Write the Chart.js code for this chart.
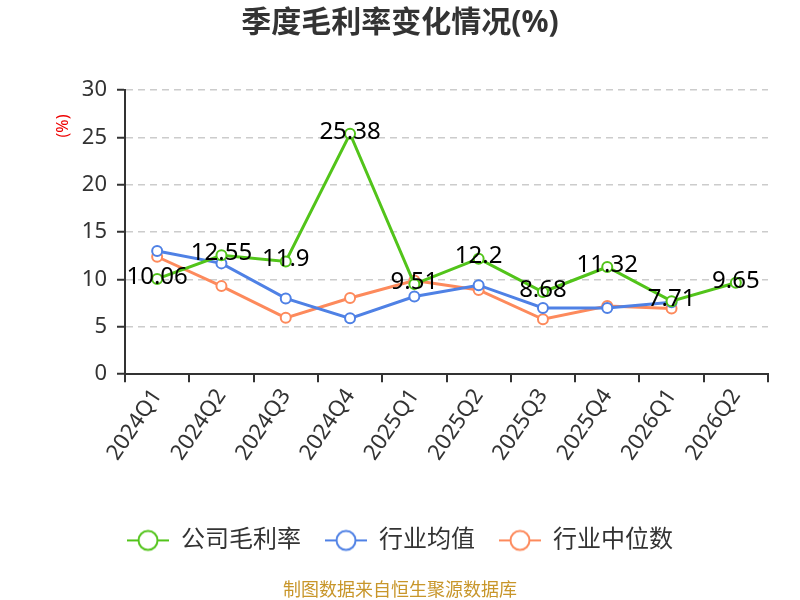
<!DOCTYPE html>
<html>
<head>
<meta charset="utf-8">
<script src="https://cdn.jsdelivr.net/npm/chart.js@4.4.0/dist/chart.umd.min.js"></script>
<style>
  html, body { margin: 0; padding: 0; background: #fff; }
  #wrap { width: 800px; height: 600px; }
</style>
</head>
<body>
<div id="wrap"><canvas id="c" width="800" height="600"></canvas></div>
<script>
// 분기 라벨
const quarters = ['2024Q1', '2024Q2', '2024Q3', '2024Q4', '2025Q1', '2025Q2', '2025Q3', '2025Q4', '2026Q1', '2026Q2'];
// 데이터
const companyMargin = [10.06, 12.55, 11.9, 25.38, 9.51, 12.2, 8.68, 11.32, 7.71, 9.65];
const industryAvg = [13.0, 11.7, 8.0, 5.9, 8.2, 9.4, 7.0, 7.0, 7.6, null];
const industryMedian = [12.4, 9.3, 5.95, 8.05, 9.9, 8.9, 5.8, 7.2, 6.95, null];
const seriesNames = ['公司毛利率', '行业均值', '行业中位数'];
const yTicks = [0, 5, 10, 15, 20, 25, 30];

const FONT = "'Noto Sans', 'Noto Sans CJK SC', sans-serif";
const colors = ['#52c41a', '#4f81e5', '#fd8a5c'];

// 범례 아이콘 (선 + 원)
function legendIcon(color) {
    const cv = document.createElement('canvas');
    cv.width = 42; cv.height = 24;
    const g = cv.getContext('2d');
    g.strokeStyle = color;
    g.lineWidth = 2;
    g.beginPath(); g.moveTo(0, 12); g.lineTo(42, 12); g.stroke();
    g.beginPath(); g.arc(21, 12, 9.5, 0, Math.PI * 2);
    g.fillStyle = '#fff'; g.fill(); g.stroke();
    return cv;
}

// 데이터 라벨 + y축 단위
const valueLabels = {
    id: 'valueLabels',
    afterDatasetsDraw(chart) {
        const ctx = chart.ctx;
        const meta = chart.getDatasetMeta(0);
        ctx.save();
        ctx.font = '24px ' + FONT;
        ctx.fillStyle = '#000';
        ctx.textAlign = 'center';
        ctx.textBaseline = 'middle';
        meta.data.forEach((pt, i) => {
            ctx.fillText(String(companyMargin[i]), pt.x, pt.y - 2);
        });
        ctx.restore();

        // (%) 단위 표시
        const area = chart.chartArea;
        ctx.save();
        ctx.translate(area.left - 62, area.top + 36);
        ctx.rotate(-Math.PI / 2);
        ctx.font = '16px ' + FONT;
        ctx.fillStyle = '#e00';
        ctx.textAlign = 'center';
        ctx.textBaseline = 'middle';
        ctx.fillText('(%)', 0, 0);
        ctx.restore();
    }
};

const mkSet = (label, data, color) => ({
    label: label,
    data: data,
    borderColor: color,
    backgroundColor: '#fff',
    borderWidth: 3,
    pointRadius: 5,
    pointHoverRadius: 5,
    pointBorderWidth: 2,
    pointBackgroundColor: '#fff',
    pointBorderColor: color,
    tension: 0,
    spanGaps: false
});

new Chart(document.getElementById('c'), {
    type: 'line',
    data: {
        labels: quarters,
        datasets: [
            mkSet(seriesNames[0], companyMargin, colors[0]),
            mkSet(seriesNames[1], industryAvg, colors[1]),
            mkSet(seriesNames[2], industryMedian, colors[2])
        ]
    },
    options: {
        responsive: false,
        animation: false,
        layout: { padding: { left: 32, right: 32, top: 0, bottom: 0 } },
        plugins: {
            title: {
                display: true,
                text: '季度毛利率变化情况(%)',
                color: '#333',
                font: { size: 30, weight: 'bold', family: FONT },
                padding: { top: 5, bottom: 49 }
            },
            subtitle: {
                display: true,
                position: 'bottom',
                text: '制图数据来自恒生聚源数据库',
                color: '#c8962a',
                font: { size: 18, family: FONT },
                padding: { top: 18, bottom: -2 }
            },
            legend: {
                position: 'bottom',
                labels: {
                    usePointStyle: true,
                    pointStyleWidth: 42,
                    color: '#333',
                    font: { size: 24, family: FONT },
                    padding: 24,
                    generateLabels(chart) {
                        return chart.data.datasets.map((ds, i) => ({
                            text: ds.label,
                            pointStyle: legendIcon(colors[i]),
                            fillStyle: '#fff',
                            strokeStyle: colors[i],
                            lineWidth: 0,
                            fontColor: '#333',
                            datasetIndex: i,
                            hidden: false
                        }));
                    }
                }
            },
            tooltip: { enabled: false }
        },
        scales: {
            x: {
                offset: true,
                grid: { display: true, drawOnChartArea: false, drawTicks: true, tickLength: 8, color: '#333', lineWidth: 2, offset: true },
                border: { display: true, color: '#333', width: 2 },
                ticks: {
                    color: '#333',
                    font: { size: 22, family: FONT },
                    maxRotation: 56,
                    minRotation: 56,
                    padding: 2
                },
                afterFit(scale) { scale.height += 37; }
            },
            y: {
                min: 0,
                max: 30,
                afterBuildTicks(axis) { axis.ticks = yTicks.map(v => ({ value: v })); },
                grid: { color: '#ccc', lineWidth: 1.5, tickColor: '#333', tickLength: 8, tickWidth: 2, tickBorderDash: [] },
                border: { display: true, color: '#333', width: 2, dash: [7, 5] },
                ticks: {
                    color: '#333',
                    font: { size: 22, family: FONT },
                    padding: 10
                },
                afterFit(scale) { scale.width = 93; }
            }
        }
    },
    plugins: [valueLabels]
});
</script>
</body>
</html>
